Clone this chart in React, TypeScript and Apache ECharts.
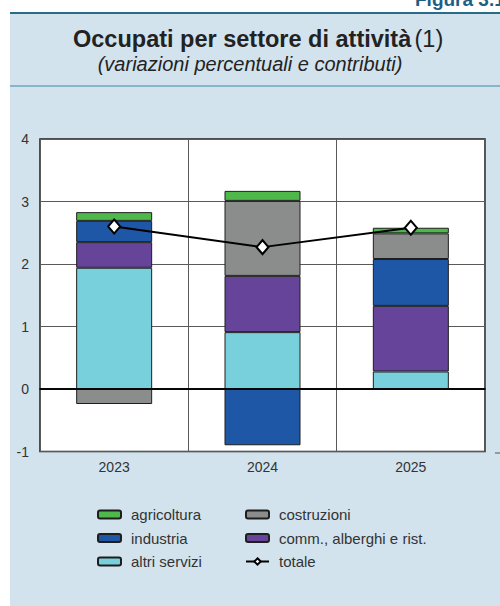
import React, { useEffect, useRef } from "react";
import * as echarts from "echarts";

const categories = ["2023", "2024", "2025"];
const altriServizi = [1.94, 0.91, 0.28];
const commAlberghi = [0.41, 0.9, 1.05];
const industria = [0.34, -0.9, 0.75];
const costruzioni = [-0.24, 1.2, 0.41];
const agricoltura = [0.14, 0.16, 0.09];
const totale = [2.6, 2.27, 2.58];
const yTicks = { min: -1, max: 4, interval: 1 };

const FONT = "'Liberation Sans', Arial, Helvetica, sans-serif";
const BORDER = "#1e1e1e";

export default function App() {
  const ref = useRef<HTMLDivElement>(null);
  useEffect(() => {
    if (!ref.current) return;
    const chart = echarts.init(ref.current, null, { renderer: "svg" });
    const barBase = (name: string, data: number[], color: string) => ({
      name,
      type: "bar",
      stack: "tot",
      data,
      barWidth: 76,
      itemStyle: { color, borderColor: BORDER, borderWidth: 1 },
    });
    const legendCommon = {
      orient: "vertical",
      top: 507,
      padding: 0,
      itemWidth: 23,
      itemHeight: 8,
      itemGap: 8.5,
      textStyle: { fontSize: 15, color: "#333", fontFamily: FONT, padding: [0, 0, 0, 5] },
    };
    chart.setOption({
      animation: false,
      textStyle: { fontFamily: FONT },
      graphic: [
        { type: "rect", shape: { x: 10, y: 13, width: 490, height: 593 }, style: { fill: "#d2e3ed" }, z: -10 },
        { type: "line", shape: { x1: 10, y1: 13, x2: 500, y2: 13 }, style: { stroke: "#2a6b88", lineWidth: 2 }, z: -5 },
        { type: "line", shape: { x1: 10, y1: 86, x2: 500, y2: 86 }, style: { stroke: "#3f86a6", lineWidth: 1 }, z: -5 },
        { type: "line", shape: { x1: 495, y1: 453, x2: 500, y2: 453 }, style: { stroke: "#555", lineWidth: 1 }, z: -5 },
        {
          type: "text",
          x: 415,
          y: 9,
          style: {
            text: "Figura 3.1",
            font: `bold 19px ${FONT}`,
            fill: "#1b5f86",
            textVerticalAlign: "bottom",
          },
        },
        {
          type: "text",
          x: 73,
          y: 39,
          style: {
            text: "{b|Occupati per settore di attività} {n|(1)}",
            rich: {
              b: { fontSize: 23.5, fontWeight: "bold", fill: "#222", fontFamily: FONT },
              n: { fontSize: 23.5, fontWeight: "normal", fill: "#222", fontFamily: FONT },
            },
            textAlign: "left",
            textVerticalAlign: "middle",
          },
        },
        {
          type: "text",
          x: 250,
          y: 64,
          style: {
            text: "(variazioni percentuali e contributi)",
            font: `italic 20px ${FONT}`,
            fill: "#222",
            textAlign: "center",
            textVerticalAlign: "middle",
          },
        },
      ],
      grid: {
        left: 40,
        right: 15,
        top: 139,
        bottom: 154.5,
        show: true,
        backgroundColor: "#ffffff",
        borderColor: BORDER,
        borderWidth: 1.5,
      },
      xAxis: {
        type: "category",
        data: categories,
        boundaryGap: true,
        axisLine: { show: true, lineStyle: { color: BORDER, width: 2 } },
        axisTick: { show: false },
        axisLabel: { color: "#333", fontSize: 14, margin: 8, fontFamily: FONT },
        splitLine: { show: true, lineStyle: { color: "#5a5a5a", width: 1 } },
      },
      yAxis: {
        type: "value",
        min: yTicks.min,
        max: yTicks.max,
        interval: yTicks.interval,
        axisLine: { show: false },
        axisTick: { show: false },
        axisLabel: { color: "#333", fontSize: 14, margin: 11, fontFamily: FONT },
        splitLine: { show: true, lineStyle: { color: "#5a5a5a", width: 1 } },
      },
      legend: [
        { ...legendCommon, left: 97, data: ["agricoltura", "industria", "altri servizi"] },
        { ...legendCommon, left: 245, data: ["costruzioni", "comm., alberghi e rist.", "totale"] },
      ],
      series: [
        {
          ...barBase("altri servizi", altriServizi, "#78d0dc"),
          markLine: {
            silent: true,
            symbol: "none",
            label: { show: false },
            lineStyle: { color: "#000", width: 1.5, type: "solid" },
            data: [{ yAxis: 0 }],
          },
        },
        barBase("comm., alberghi e rist.", commAlberghi, "#654499"),
        barBase("industria", industria, "#1e57a6"),
        barBase("costruzioni", costruzioni, "#8b8d8d"),
        barBase("agricoltura", agricoltura, "#4fb84b"),
        {
          name: "totale",
          type: "line",
          data: totale,
          z: 10,
          symbol: "diamond",
          symbolSize: [12, 14],
          lineStyle: { color: "#000", width: 2 },
          itemStyle: { color: "#fff", borderColor: "#000", borderWidth: 2 },
        },
      ],
    });
    return () => chart.dispose();
  }, []);
  return (
    <div
      ref={ref}
      style={{ position: "absolute", left: 0, top: 0, width: 500, height: 606 }}
    />
  );
}
